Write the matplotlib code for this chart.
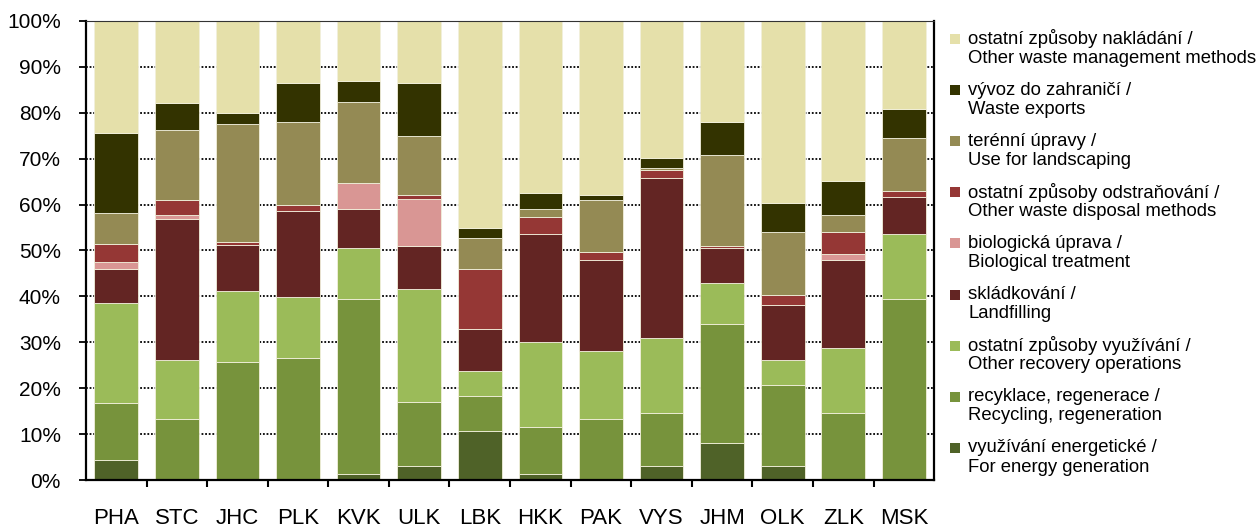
import numpy as np
import matplotlib.pyplot as plt
from matplotlib.patches import Rectangle
from matplotlib.ticker import FixedLocator, PercentFormatter

plt.rcParams['font.family'] = ['Liberation Sans', 'DejaVu Sans']

# kraje
regions = ['PHA', 'STC', 'JHC', 'PLK', 'KVK', 'ULK', 'LBK',
           'HKK', 'PAK', 'VYS', 'JHM', 'OLK', 'ZLK', 'MSK']

# podily jednotlivych zpusobu nakladani (%), odspodu nahoru
energy      = [4.3, 0.0, 0.0, 0.0, 1.3, 3.0, 10.7, 1.3, 0.0, 3.0, 8.1, 3.0, 0.0, 0.0]
recycling   = [12.4, 13.3, 25.8, 26.6, 38.1, 14.1, 7.7, 10.2, 13.3, 11.5, 25.8, 17.6, 14.5, 39.4]
recovery    = [21.9, 12.9, 15.4, 13.3, 11.2, 24.5, 5.3, 18.5, 14.7, 16.4, 9.0, 5.5, 14.3, 14.1]
landfill    = [7.3, 30.7, 9.9, 18.8, 8.5, 9.4, 9.3, 23.5, 20.0, 35.0, 7.7, 12.1, 19.2, 8.2]
biological  = [1.7, 0.9, 0.0, 0.0, 5.6, 10.3, 0.0, 0.0, 0.0, 0.0, 0.0, 0.0, 1.2, 0.0]
disposal    = [3.8, 3.1, 0.8, 1.3, 0.0, 0.8, 12.9, 3.9, 1.7, 1.7, 0.4, 2.1, 4.8, 1.3]
landscaping = [6.8, 15.4, 25.7, 18.0, 17.6, 12.8, 6.8, 1.7, 11.2, 0.4, 19.7, 13.7, 3.8, 11.6]
exports     = [17.5, 5.8, 2.4, 8.4, 4.6, 11.5, 2.1, 3.4, 1.2, 2.2, 7.2, 6.4, 7.3, 6.3]
other       = [24.3, 17.9, 20.0, 13.6, 13.1, 13.6, 45.2, 37.5, 37.9, 29.8, 22.1, 39.6, 34.9, 19.1]

series = [energy, recycling, recovery, landfill, biological,
          disposal, landscaping, exports, other]
colors = ['#4F6228', '#77933C', '#9BBB59', '#632523', '#D99694',
          '#953735', '#948A54', '#333300', '#E5E0AA']
labels_cz = ['využívání energetické /', 'recyklace, regenerace /',
             'ostatní způsoby využívání /', 'skládkování /',
             'biologická úprava /', 'ostatní způsoby odstraňování /',
             'terénní úpravy /', 'vývoz do zahraničí /',
             'ostatní způsoby nakládání /']
labels_en = ['For energy generation', 'Recycling, regeneration',
             'Other recovery operations', 'Landfilling',
             'Biological treatment', 'Other waste disposal methods',
             'Use for landscaping', 'Waste exports',
             'Other waste management methods']

fig = plt.figure(figsize=(12.59, 5.31), dpi=100)
ax = fig.add_axes([0.0683, 0.0960, 0.6737, 0.8645])

x = np.arange(len(regions))
bottom = np.zeros(len(regions))
for vals, col in zip(series, colors):
    vals = np.array(vals)
    edges = ['#F2F0DC' if v > 0 else 'none' for v in vals]
    ax.bar(x, vals, 0.72, bottom=bottom, color=col, edgecolor=edges,
           linewidth=0.6, zorder=2)
    bottom += vals

ax.set_xlim(-0.5, len(regions) - 0.5)
ax.set_ylim(0, 100)
ax.set_axisbelow(True)
ax.yaxis.set_major_locator(FixedLocator(np.arange(0, 101, 10)))
ax.yaxis.set_major_formatter(PercentFormatter(decimals=0))
ax.grid(axis='y', color='black', linestyle=(0, (1, 1)), linewidth=1.3, zorder=0)

ax.set_xticks(x)
ax.set_xticklabels(regions)
ax.set_xticks(np.arange(0.5, len(regions) - 0.5), minor=True)
ax.tick_params(axis='x', which='major', length=0, pad=20, labelsize=16)
ax.tick_params(axis='x', which='minor', length=5, width=1.5, direction='out')
ax.tick_params(axis='y', length=5, width=1.3, direction='out', pad=13, labelsize=15)

for s in ['left', 'bottom', 'right']:
    ax.spines[s].set_linewidth(1.6)
ax.spines['top'].set_linewidth(0.8)
ax.spines['top'].set_color('#333333')

# legenda (poradi shora: posledni serie nahore)
sq = 10 / 1259
for i, k in enumerate(range(len(series) - 1, -1, -1)):
    yc = 39 + i * 51.1
    fig.patches.append(Rectangle((950 / 1259, 1 - (yc + 5) / 531), sq, 10 / 531,
                                 transform=fig.transFigure, facecolor=colors[k],
                                 edgecolor='none'))
    fig.text(968 / 1259, 1 - yc / 531, labels_cz[k], fontsize=13.3, va='center')
    fig.text(968 / 1259, 1 - (yc + 19.3) / 531, labels_en[k], fontsize=13.3, va='center')

fig.savefig('out.png', dpi=100)
